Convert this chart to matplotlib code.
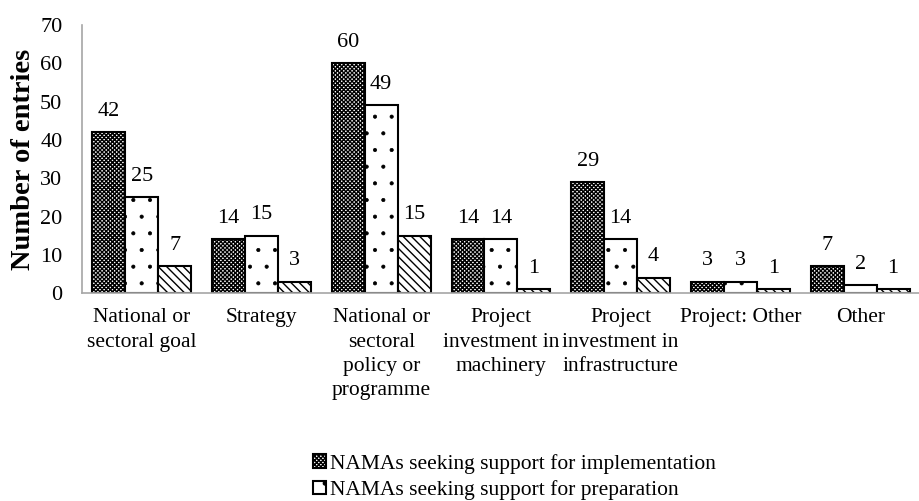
import matplotlib
matplotlib.use("Agg")
import matplotlib.pyplot as plt
import numpy as np

plt.rcParams['font.family'] = ['Liberation Serif', 'DejaVu Serif']

categories = ["National or\nsectoral goal", "Strategy",
              "National or\nsectoral\npolicy or\nprogramme",
              "Project\ninvestment in\nmachinery",
              "Project\ninvestment in\ninfrastructure",
              "Project: Other", "Other"]
implementation = [42, 14, 60, 14, 29, 3, 7]
preparation = [25, 15, 49, 14, 14, 3, 2]
third = [7, 3, 15, 1, 4, 1, 1]

labels = ["NAMAs seeking support for implementation",
          "NAMAs seeking support for preparation"]

fig = plt.figure(figsize=(9.2, 5.01), dpi=100)
ax = fig.add_axes([0.089, 0.415, 0.911, 0.535])

x = np.arange(len(categories))
w = 0.275

plt.rcParams['hatch.linewidth'] = 1.0
b1 = ax.bar(x - w, implementation, w, color='white', edgecolor='black',
            hatch='xxxxxxxx', linewidth=1.5, label=labels[0])
plt.rcParams['hatch.linewidth'] = 0.5
b2 = ax.bar(x, preparation, w, color='white', edgecolor='black',
            hatch='.', linewidth=1.5, label=labels[1])
plt.rcParams['hatch.linewidth'] = 1.0
b3 = ax.bar(x + w, third, w, color='white', edgecolor='black',
            hatch='\\\\\\\\', linewidth=1.5)

for bars in (b1, b2, b3):
    for r in bars:
        v = r.get_height()
        ax.text(r.get_x() + r.get_width() / 2, v + 3, str(int(v)),
                ha='center', va='bottom', fontsize=16)

ax.set_xlim(-0.5, len(categories) - 0.5)
ax.set_ylim(0, 70)
ax.set_yticks(range(0, 71, 10))
ax.set_xticks(x)
ax.set_xticklabels(categories, fontsize=15.5, linespacing=1.38)
ax.tick_params(axis='y', labelsize=16, length=0, pad=14)
ax.tick_params(axis='x', length=0, pad=11)
ax.set_ylabel("Number of entries", fontsize=20.5, fontweight='bold', labelpad=3)

for s in ['top', 'right']:
    ax.spines[s].set_visible(False)
for s in ['left', 'bottom']:
    ax.spines[s].set_color('#a6a6a6')
    ax.spines[s].set_linewidth(1.2)

fig.legend(handles=[b1, b2], labels=labels, loc='upper left',
           bbox_to_anchor=(0.340, 0.094), frameon=False, fontsize=15.5,
           handlelength=0.6, handleheight=0.6, handletextpad=0.2,
           labelspacing=0.3, borderaxespad=0, borderpad=0)

fig.savefig("out.png", dpi=100)
